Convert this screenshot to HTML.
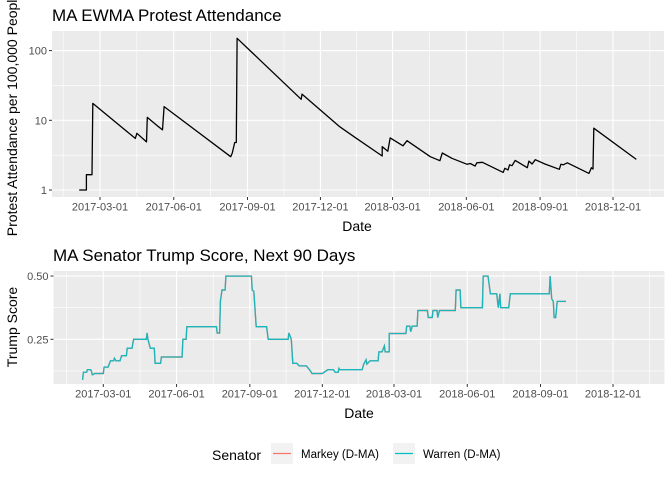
<!DOCTYPE html>
<html><head><meta charset="utf-8"><style>
html,body{margin:0;padding:0;background:#fff;}
svg{display:block;font-family:"Liberation Sans",Arial,sans-serif;}
</style></head><body>
<svg id="chart" width="672" height="480" viewBox="0 0 672 480" xmlns="http://www.w3.org/2000/svg">
<text x="52" y="21" font-size="17" fill="#000">MA EWMA Protest Attendance</text>
<rect x="52" y="31" width="612" height="166" fill="#ebebeb"/>
<g id="topGrid"></g><g id="topLine"></g><g id="topAxes"></g>
<text x="357" y="231" font-size="14" text-anchor="middle" fill="#000">Date</text>
<text transform="translate(17,114) rotate(-90)" font-size="14" text-anchor="middle" fill="#000">Protest Attendance per 100,000 People</text>

<text x="53" y="261" font-size="17" fill="#000">MA Senator Trump Score, Next 90 Days</text>
<rect x="53.5" y="271" width="611" height="113" fill="#ebebeb"/>
<g id="botGrid"></g><g id="botLine"></g><g id="botAxes"></g>
<text x="359" y="418" font-size="14" text-anchor="middle" fill="#000">Date</text>
<text transform="translate(17,327) rotate(-90)" font-size="14" text-anchor="middle" fill="#000">Trump Score</text>

<g>
<text x="212" y="460" font-size="14" fill="#000">Senator</text>
<rect x="271" y="443" width="22" height="21" fill="#f2f2f2"/>
<line x1="273" y1="453.5" x2="291" y2="453.5" stroke="#F8766D" stroke-width="1.2"/>
<text x="301" y="458" font-size="11.5" fill="#000">Markey (D-MA)</text>
<rect x="393" y="443" width="22" height="21" fill="#f2f2f2"/>
<line x1="395" y1="453.5" x2="413" y2="453.5" stroke="#00BFC4" stroke-width="1.2"/>
<text x="423" y="458" font-size="11.5" fill="#000">Warren (D-MA)</text>
</g>
</svg>
<script>
// days since 2017-03-01
const xTickDays = [0, 92, 184, 275, 365, 457, 549, 640];
const xTickLabels = ["2017-03-01","2017-06-01","2017-09-01","2017-12-01","2018-03-01","2018-06-01","2018-09-01","2018-12-01"];
const topYTicks = [1, 10, 100];
const topYLabels = ["1", "10", "100"];
const topMinorY = [Math.sqrt(10), Math.sqrt(1000)];
const botYTicks = [0.25, 0.50];
const botYLabels = ["0.25", "0.50"];
const botMinorY = [0.125, 0.375];
const attendanceDays = [-26,-17,-17,-10,-9,44,46,58,59,73,78,80,163,165,168,170,171,251,252,299,318,352,352,359,362,378,383,412,424,427,439,458,462,468,470,477,503,505,509,511,514,518,533,535,539,543,555,573,575,578,583,610,613,615,616,669];
const attendanceValues = [1,1,1.66,1.66,17.5,5.5,6.5,4.9,11,8.1,7.3,15.7,3.0,3.4,4.8,4.8,150,20,23.8,8.1,5.7,3.07,4.2,3.6,5.6,4.3,5.1,3.0,2.63,3.4,2.85,2.34,2.4,2.2,2.46,2.5,1.79,2.05,1.94,2.3,2.23,2.66,2.09,2.6,2.36,2.72,2.36,1.98,2.34,2.3,2.46,1.73,2.09,2.0,7.7,2.75];
const scoreDays = [-26,-25,-21,-20,-16,-15,-14,-13,-11,0,1,6,9,13,14,16,21,23,29,30,36,38,54,55,56,59,64,65,72,73,99,100,104,105,142,143,146,147,149,153,154,186,187,189,192,205,207,232,233,236,238,243,246,255,260,262,275,282,289,291,295,296,297,325,326,327,330,331,335,345,346,350,353,354,359,359,380,381,385,386,388,394,395,407,408,413,414,419,420,422,442,443,448,449,476,477,483,486,494,496,498,499,509,511,560,561,563,565,566,568,570,581];
const warrenScores = [0.09,0.12,0.12,0.13,0.13,0.125,0.11,0.11,0.115,0.115,0.14,0.14,0.165,0.165,0.175,0.165,0.165,0.185,0.185,0.215,0.215,0.25,0.25,0.275,0.25,0.215,0.215,0.155,0.155,0.18,0.18,0.25,0.25,0.30,0.30,0.275,0.275,0.40,0.445,0.445,0.50,0.50,0.445,0.44,0.30,0.30,0.25,0.25,0.275,0.25,0.155,0.155,0.145,0.145,0.125,0.115,0.115,0.13,0.13,0.12,0.12,0.135,0.13,0.13,0.14,0.152,0.169,0.152,0.165,0.165,0.2,0.2,0.224,0.2,0.2,0.273,0.273,0.302,0.302,0.28,0.302,0.302,0.364,0.364,0.336,0.336,0.364,0.364,0.336,0.364,0.364,0.445,0.445,0.375,0.375,0.5,0.5,0.43,0.43,0.375,0.43,0.375,0.375,0.43,0.43,0.5,0.41,0.40,0.336,0.336,0.40,0.40];
const markeyScores = warrenScores.slice();

const NS = "http://www.w3.org/2000/svg";
const xTop = d => 100 + d * 0.8016;
const yTop = v => 190 - 69.7 * Math.log10(v);
const xBot = d => 103.3 + d * 0.7964;
const yBot = v => 339.3 - (v - 0.25) * 253;
function mk(tag, attrs, parent) {
  const e = document.createElementNS(NS, tag);
  for (const k in attrs) e.setAttribute(k, attrs[k]);
  parent.appendChild(e);
  return e;
}
function drawPanel(gridG, axesG, xf, yf, top, bottom, left, right, yTicks, yLabels, yMinor, prefix) {
  const minorX = [-46];
  for (let i = 0; i < xTickDays.length - 1; i++) minorX.push((xTickDays[i] + xTickDays[i + 1]) / 2);
  minorX.push(686);
  minorX.forEach(d => {
    const x = xf(d);
    if (x > left && x < right) {
      const l = mk("line", {x1: x, x2: x, y1: top, y2: bottom, stroke: "#fff", "stroke-width": 0.6}, gridG);
      
      
    }
  });
  yMinor.forEach(v => {
    const y = yf(v);
    const l = mk("line", {x1: left, x2: right, y1: y, y2: y, stroke: "#fff", "stroke-width": 0.6}, gridG);
    
    
  });
  xTickDays.forEach((d, i) => {
    const x = xf(d);
    const l = mk("line", {x1: x, x2: x, y1: top, y2: bottom, stroke: "#fff", "stroke-width": 1.1}, gridG);
    
    
    const t = mk("line", {x1: x, x2: x, y1: bottom, y2: bottom + 3, stroke: "#333", "stroke-width": 1}, axesG);
    
    
    const tx = mk("text", {x: x, y: bottom + 13.5, "font-size": 11, "text-anchor": "middle", fill: "#4d4d4d"}, axesG);
    tx.textContent = xTickLabels[i];
    
    
  });
  yTicks.forEach((v, i) => {
    const y = yf(v);
    const l = mk("line", {x1: left, x2: right, y1: y, y2: y, stroke: "#fff", "stroke-width": 1.1}, gridG);
    
    
    const t = mk("line", {x1: left - 3, x2: left, y1: y, y2: y, stroke: "#333", "stroke-width": 1}, axesG);
    
    
    const tx = mk("text", {x: left - 5, y: y + 4, "font-size": 11, "text-anchor": "end", fill: "#4d4d4d"}, axesG);
    tx.textContent = yLabels[i];
    
    
  });
}
drawPanel(document.getElementById("topGrid"), document.getElementById("topAxes"), xTop, yTop, 31, 197, 52, 664, topYTicks, topYLabels, topMinorY, "top");
drawPanel(document.getElementById("botGrid"), document.getElementById("botAxes"), xBot, yBot, 271, 384, 53.5, 664.5, botYTicks, botYLabels, botMinorY, "bottom");

const topPts = attendanceDays.map((d, i) => xTop(d).toFixed(1) + "," + yTop(attendanceValues[i]).toFixed(1)).join(" ");
const tl = mk("polyline", {points: topPts, fill: "none", stroke: "#000", "stroke-width": 1.3, "stroke-linejoin": "round"}, document.getElementById("topLine"));



const mPts = scoreDays.map((d, i) => xBot(d).toFixed(1) + "," + yBot(markeyScores[i]).toFixed(1)).join(" ");
const ml = mk("polyline", {points: mPts, fill: "none", stroke: "#F8766D", "stroke-width": 1.4}, document.getElementById("botLine"));


const wPts = scoreDays.map((d, i) => xBot(d).toFixed(1) + "," + yBot(warrenScores[i]).toFixed(1)).join(" ");
const wl = mk("polyline", {points: wPts, fill: "none", stroke: "#00BFC4", "stroke-width": 1.3, "stroke-opacity": 0.9}, document.getElementById("botLine"));


</script>
</body></html>
